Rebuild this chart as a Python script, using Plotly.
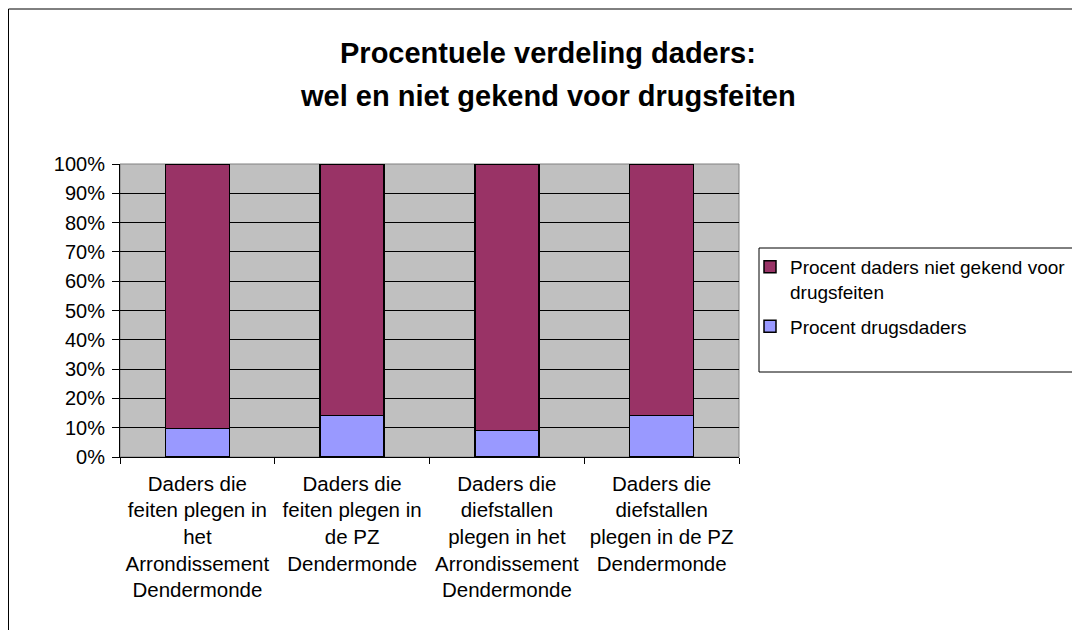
import plotly.graph_objects as go

categories = [
    "Daders die<br>feiten plegen in<br>het<br>Arrondissement<br>Dendermonde",
    "Daders die<br>feiten plegen in<br>de PZ<br>Dendermonde",
    "Daders die<br>diefstallen<br>plegen in het<br>Arrondissement<br>Dendermonde",
    "Daders die<br>diefstallen<br>plegen in de PZ<br>Dendermonde",
]
drugsdaders = [9.7, 14.1, 9.0, 14.2]
niet_gekend = [90.3, 85.9, 91.0, 85.8]
name_drugs = "Procent drugsdaders"
name_niet = "Procent daders niet gekend voor<br>drugsfeiten"
title_lines = ["Procentuele verdeling daders:", "wel en niet gekend voor drugsfeiten"]

FONT = "Liberation Sans, Arial, sans-serif"

fig = go.Figure()
fig.add_trace(go.Bar(x=categories, y=drugsdaders, name=name_drugs, legendgroup="g1",
                     legendrank=2,
                     marker=dict(color="#9999FF", line=dict(color="black", width=1.5))))
fig.add_trace(go.Bar(x=categories, y=niet_gekend, name=name_niet, legendgroup="g2",
                     legendrank=1,
                     marker=dict(color="#993366", line=dict(color="black", width=1.5))))

OFF = 8  # page body margin
W, H = 1080 - OFF, 630 - OFF
# plot area in screen pixels
SL, SR, ST, SB = 120, 739, 164, 457
L, R, T, B = SL - OFF, SR - OFF, ST - OFF, SB - OFF
pw, ph = R - L, B - T

def px(x):
    return (x - SL) / pw

def py(y):
    return (SB - y) / ph

fig.update_layout(
    width=W, height=H,
    margin=dict(l=L, r=W - R, t=T, b=H - B, pad=0, autoexpand=False),
    barmode="stack", bargap=0.586,
    paper_bgcolor="white", plot_bgcolor="#C0C0C0",
    font=dict(family=FONT, size=19, color="black"),
    showlegend=True,
    legend=dict(traceorder="grouped", x=px(750), y=py(248), xanchor="left", yanchor="top",
                bgcolor="rgba(0,0,0,0)", borderwidth=0, valign="top",
                font=dict(family=FONT, size=19, color="black"),
                itemwidth=30, tracegroupgap=7),
    xaxis=dict(showline=True, linecolor="black", linewidth=1, ticks="outside",
               tickson="boundaries", ticklen=6, tickcolor="black", showgrid=False,
               tickfont=dict(family=FONT, size=20.5), tickangle=0, automargin=False,
               ticklabelstandoff=8),
    yaxis=dict(range=[0, 100], dtick=10, ticksuffix="%", showline=True, linecolor="black",
               linewidth=1, ticks="outside", ticklen=7, tickcolor="black", showgrid=True,
               gridcolor="black", gridwidth=1, zeroline=False, automargin=False,
               tickfont=dict(family=FONT, size=20), ticklabelstandoff=3),
    shapes=[
        dict(type="rect", xref="paper", yref="paper", x0=0, x1=1, y0=0, y1=1,
             line=dict(color="#808080", width=1), layer="below"),
        dict(type="rect", xref="paper", yref="paper", x0=px(8.5), x1=px(1095), y0=py(9), y1=py(640),
             line=dict(color="black", width=1)),
        dict(type="rect", xref="paper", yref="paper", x0=px(759), x1=px(1095), y0=py(372), y1=py(248),
             line=dict(color="black", width=1)),
    ],
    annotations=[
        dict(text="<b>%s</b>" % title_lines[0], xref="paper", yref="paper", x=px(548), y=py(53),
             xanchor="center", yanchor="middle", showarrow=False,
             font=dict(family=FONT, size=29, color="black")),
        dict(text="<b>%s</b>" % title_lines[1], xref="paper", yref="paper", x=px(548), y=py(96),
             xanchor="center", yanchor="middle", showarrow=False,
             font=dict(family=FONT, size=29, color="black")),
    ],
)

fig.write_html("out.html")
